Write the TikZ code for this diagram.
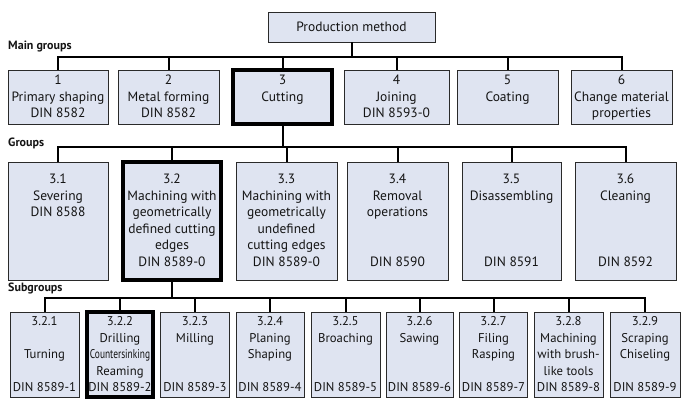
\documentclass[tikz,border=0pt]{standalone}
\usepackage{graphicx}
\usepackage{fontspec}
\setmainfont{PT Sans}
\definecolor{boxfill}{HTML}{DFE4F1}
\definecolor{boxline}{HTML}{2A2A2A}
\definecolor{txt}{HTML}{141414}
\newcommand\sx{\rule[-2.75pt]{0pt}{13.75pt}}
\begin{document}
\begin{tikzpicture}[x=1pt,y=-1pt,
  bx/.style={draw=boxline,fill=boxfill,line width=0.8pt,inner sep=0pt,align=center,
    text=txt,font=\fontsize{13.5}{16.5}\selectfont},
  thk/.style={line width=3.5pt,draw=black},
  bus/.style={line width=2pt,draw=black,line cap=butt},
  grp/.style={anchor=west,inner sep=0pt,text=txt,font=\fontsize{12}{14}\selectfont\bfseries},
  r1/.style={bx,minimum width=#1,minimum height=54pt},
  r2/.style={bx,minimum width=#1,minimum height=118pt},
  r3/.style={bx,minimum width=#1,minimum height=85pt,font=\fontsize{12.7}{16.5}\selectfont}]
\useasboundingbox (0,0) rectangle (687,405);
\fill[white] (0,0) rectangle (687,405);

% labels
\node[grp] (lmain) at (8,47) {Main groups};
\node[grp] (lgrp) at (8,143) {Groups};
\node[grp] (lsub) at (8,288) {Subgroups};

% top
\node[bx,minimum width=167pt,minimum height=30pt] (prod) at (351.5,27) {\sx Production method};

% row 1
\node[r1=100pt] (n1) at (58,97) {\sx 1\\Primary shaping\\DIN 8582\sx};
\node[r1=101pt] (n2) at (168.5,97) {\sx 2\\Metal forming\\DIN 8582\sx};
\node[r1=99pt,thk] (n3) at (282.5,97) {\sx 3\\Cutting\\\sx};
\node[r1=105pt] (n4) at (396.5,97) {\sx 4\\Joining\\DIN 8593-0\sx};
\node[r1=101pt] (n5) at (507.5,97) {\sx 5\\Coating\\\sx};
\node[r1=101pt] (n6) at (621.5,97) {\sx 6\\Change material\\properties\sx};

% row 2
\node[r2=100pt] (g1) at (58,221) {\sx 3.1\\Severing\\DIN 8588\\\sx\\\sx\\\sx};
\node[r2=98pt,thk] (g2) at (172,221) {\sx 3.2\\Machining with\\geometrically\\defined cutting\\edges\\DIN 8589-0\sx};
\node[r2=101pt] (g3) at (286.5,221) {\sx 3.3\\Machining with\\geometrically\\undefined\\cutting edges\\DIN 8589-0\sx};
\node[r2=101pt] (g4) at (397.5,221) {\sx 3.4\\Removal\\operations\\\sx\\\sx\\DIN 8590\sx};
\node[r2=99pt] (g5) at (511.5,221) {\sx 3.5\\Disassembling\\\sx\\\sx\\\sx\\DIN 8591\sx};
\node[r2=101pt] (g6) at (625.5,221) {\sx 3.6\\Cleaning\\\sx\\\sx\\\sx\\DIN 8592\sx};

% row 3
\node[r3=69pt] (s1) at (44.5,354.5) {\sx 3.2.1\\\sx\\Turning\\\sx\\DIN 8589-1\sx};
\node[r3=66pt,thk] (s2) at (120,354.5) {\sx 3.2.2\\Drilling\\\scalebox{0.74}[1]{Countersinking}\\Reaming\\DIN 8589-2\sx};
\node[r3=69pt] (s3) at (195,354.5) {\sx 3.2.3\\Milling\\\sx\\\sx\\DIN 8589-3\sx};
\node[r3=68pt] (s4) at (270,354.5) {\sx 3.2.4\\Planing\\Shaping\\\sx\\DIN 8589-4\sx};
\node[r3=69pt] (s5) at (345.5,354.5) {\sx 3.2.5\\Broaching\\\sx\\\sx\\DIN 8589-5\sx};
\node[r3=67pt] (s6) at (419.5,354.5) {\sx 3.2.6\\Sawing\\\sx\\\sx\\DIN 8589-6\sx};
\node[r3=68pt] (s7) at (493.5,354.5) {\sx 3.2.7\\Filing\\Rasping\\\sx\\DIN 8589-7\sx};
\node[r3=69pt] (s8) at (568.5,354.5) {\sx 3.2.8\\Machining\\with brush-\\like tools\\DIN 8589-8\sx};
\node[r3=70pt] (s9) at (645,354.5) {\sx 3.2.9\\Scraping\\Chiseling\\\sx\\DIN 8589-9\sx};

% bus levels
\coordinate (b1) at (0,57);
\coordinate (b2) at (0,147);
\coordinate (b3) at (0,298);

% main bus
\draw[bus] (prod.south) -- (prod.south |- b1);
\draw[bus] (n1.north) -- (n1.north |- b1) -- (n6.north |- b1) -- (n6.north);
\foreach \n in {n2,n3,n4,n5} \draw[bus] (\n.north |- b1) -- (\n.north);

% groups bus
\draw[bus] (n3.south) -- (n3.south |- b2);
\draw[bus] (g1.north) -- (g1.north |- b2) -- (g6.north |- b2) -- (g6.north);
\foreach \n in {g2,g3,g4,g5} \draw[bus] (\n.north |- b2) -- (\n.north);

% subgroups bus
\draw[bus] (g2.south) -- (g2.south |- b3);
\draw[bus] (s1.north) -- (s1.north |- b3) -- (s9.north |- b3) -- (s9.north);
\foreach \n in {s2,s3,s4,s5,s6,s7,s8} \draw[bus] (\n.north |- b3) -- (\n.north);
\end{tikzpicture}
\end{document}
